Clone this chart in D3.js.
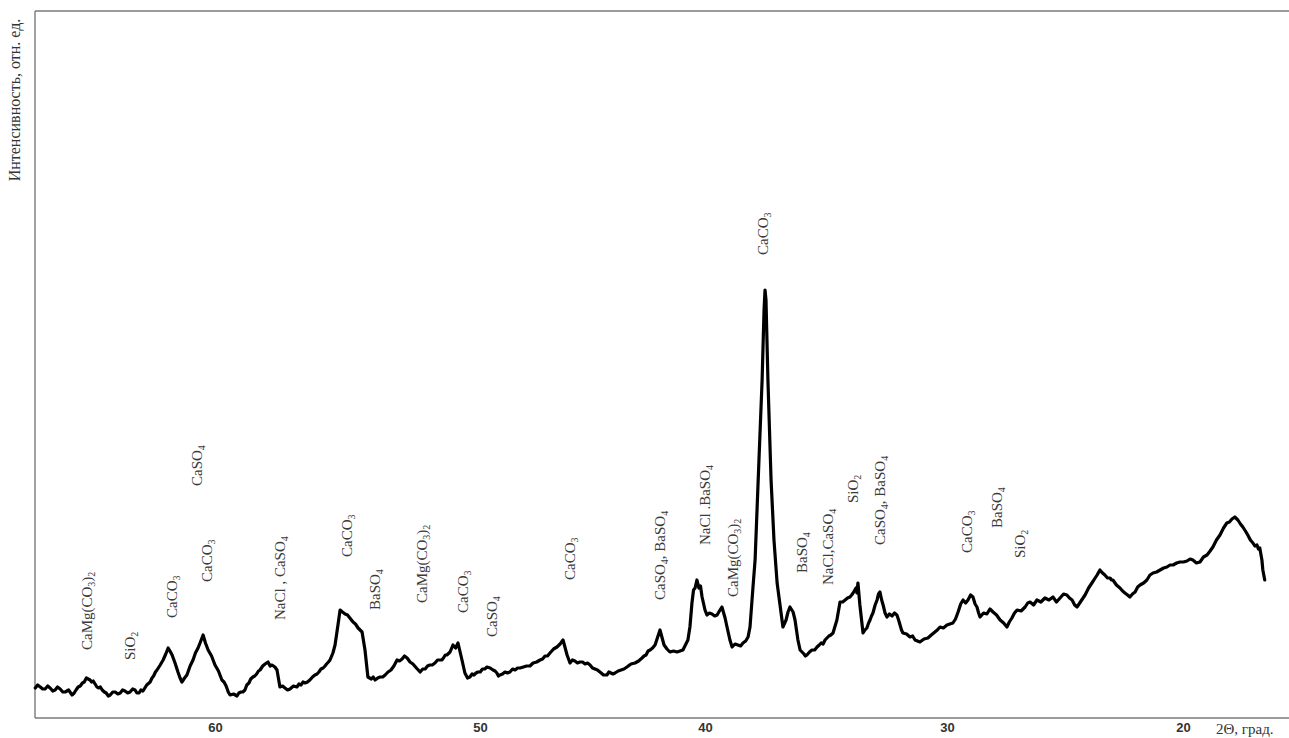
<!DOCTYPE html>
<html lang="ru">
<head>
<meta charset="utf-8">
<title>Рентгенограмма</title>
<script src="https://cdn.jsdelivr.net/npm/d3@7"></script>
<style>
  html, body { margin: 0; padding: 0; background: #fff; }
  svg { display: block; }
</style>
</head>
<body>
<svg id="chart" width="1289" height="738"></svg>
<script>
// Diffractogram: [2Θ in degrees, intensity in arb. units], recorded from high to low angle
const scan = [
  [66.79,60],[66.70,66],[66.60,62],[66.51,58],[66.42,58],[66.32,64],[66.23,60],[66.13,54],[66.04,56],[65.95,62],
  [65.85,58],[65.75,52],[65.66,52],[65.53,56],[65.40,46],[65.32,50],[65.25,56],[65.17,62],[65.09,64],[65.01,70],
  [64.94,72],[64.86,80],[64.79,78],[64.72,76],[64.66,72],[64.60,74],[64.53,68],[64.46,62],[64.40,60],[64.33,62],
  [64.26,56],[64.18,52],[64.11,50],[64.03,44],[63.96,46],[63.86,52],[63.77,52],[63.67,48],[63.58,50],[63.49,56],
  [63.40,54],[63.30,50],[63.21,52],[63.11,58],[63.02,56],[62.95,50],[62.87,50],[62.80,56],[62.72,54],[62.58,66],
  [62.45,72],[62.38,80],[62.32,84],[62.25,92],[62.19,96],[62.07,106],[61.96,116],[61.86,128],[61.77,140],[61.70,134],
  [61.62,126],[61.51,110],[61.40,92],[61.32,80],[61.25,72],[61.15,80],[61.06,86],[60.94,104],[60.83,116],[60.74,130],
  [60.64,140],[60.55,152],[60.45,166],[60.36,150],[60.26,136],[60.13,124],[60.00,106],[59.87,94],[59.74,76],[59.66,72],
  [59.58,64],[59.50,52],[59.43,46],[59.30,48],[59.17,44],[59.10,50],[59.02,52],[58.95,52],[58.87,56],[58.80,66],
  [58.72,70],[58.65,78],[58.57,82],[58.50,84],[58.43,88],[58.36,94],[58.30,96],[58.20,104],[58.11,108],[58.00,112],
  [57.92,104],[57.85,106],[57.74,102],[57.66,96],[57.55,62],[57.45,64],[57.36,60],[57.26,56],[57.17,58],[57.04,64],
  [56.91,62],[56.83,68],[56.75,66],[56.68,72],[56.60,70],[56.51,72],[56.42,76],[56.32,82],[56.23,86],[56.15,88],
  [56.08,92],[56.00,98],[55.92,100],[55.85,104],[55.79,108],[55.72,112],[55.66,116],[55.55,130],[55.47,146],[55.36,186],
  [55.28,216],[55.19,212],[55.09,208],[55.00,206],[54.91,200],[54.79,192],[54.70,188],[54.60,180],[54.45,172],[54.34,136],
  [54.23,82],[54.10,78],[54.03,82],[53.96,76],[53.86,80],[53.77,82],[53.67,82],[53.58,86],[53.47,92],[53.36,96],
  [53.25,104],[53.13,116],[53.04,114],[52.94,118],[52.85,124],[52.75,120],[52.64,112],[52.53,108],[52.40,100],[52.26,92],
  [52.16,98],[52.07,98],[51.98,104],[51.89,106],[51.80,106],[51.70,110],[51.60,116],[51.51,116],[51.44,116],[51.38,120],
  [51.31,126],[51.25,126],[51.13,132],[51.02,146],[50.92,140],[50.83,150],[50.68,116],[50.57,90],[50.47,80],[50.38,82],
  [50.30,88],[50.23,86],[50.15,90],[50.08,92],
  [49.99,92],[49.89,98],[49.79,98],[49.69,102],[49.55,100],[49.42,96],[49.33,94],[49.25,90],[49.18,84],[49.11,86],
  [49.00,88],[48.89,92],[48.78,90],[48.67,92],[48.55,98],[48.44,96],[48.33,100],[48.22,100],[48.07,102],[47.93,104],
  [47.78,104],[47.64,110],[47.48,112],[47.33,116],[47.22,118],[47.11,124],[47.00,124],[46.89,130],[46.73,138],[46.58,142],
  [46.44,148],[46.31,156],[46.13,126],[46.00,110],[45.89,116],[45.78,114],[45.67,110],[45.56,112],[45.44,112],[45.33,108],
  [45.22,110],[45.11,106],[45.00,100],[44.89,98],[44.78,96],[44.67,92],[44.51,86],[44.36,86],[44.27,92],[44.18,90],
  [44.09,88],[44.00,90],[43.86,94],[43.73,96],[43.60,98],[43.47,102],[43.29,108],[43.11,110],[42.95,114],[42.80,120],
  [42.71,124],[42.62,126],[42.53,134],[42.44,136],[42.33,140],[42.22,146],[42.00,176],[41.82,146],[41.69,138],[41.56,132],
  [41.40,134],[41.24,132],[41.11,134],[40.98,136],[40.87,146],[40.76,156],[40.67,182],[40.58,230],[40.51,256],[40.44,260],
  [40.36,276],[40.27,260],[40.20,264],[40.13,242],[40.00,216],
  [39.92,206],[39.82,210],[39.71,208],[39.60,204],[39.50,206],[39.38,216],[39.30,222],[39.17,200],[39.09,182],[38.97,156],
  [38.88,142],[38.76,148],[38.64,146],[38.53,144],[38.43,150],[38.32,154],[38.22,162],[38.14,182],[38.02,260],[37.93,316],
  [37.77,516],[37.64,676],[37.56,816],[37.52,856],[37.48,836],[37.40,676],[37.27,476],[37.15,356],[37.02,270],[36.90,226],
  [36.78,182],[36.65,196],[36.57,212],[36.49,222],[36.36,212],[36.28,196],[36.16,156],[36.07,136],[35.99,132],[35.91,128],
  [35.85,124],[35.79,126],[35.68,132],[35.58,136],[35.47,136],[35.37,142],[35.28,146],[35.20,150],[35.12,148],[35.04,156],
  [34.96,160],[34.88,164],[34.80,166],[34.71,170],[34.55,196],[34.42,232],[34.31,232],[34.21,236],[34.11,240],[34.01,242],
  [33.94,246],[33.88,250],[33.76,260],[33.72,250],[33.68,270],[33.60,226],[33.47,170],[33.39,176],[33.31,180],[33.24,190],
  [33.18,196],[33.12,204],[33.06,210],[32.97,226],[32.89,236],[32.83,248],[32.77,252],[32.70,236],[32.64,226],[32.56,210],
  [32.48,202],[32.38,208],[32.27,204],[32.17,210],[32.07,206],[32.00,196],[31.94,186],[31.88,176],[31.82,170],[31.67,168],
  [31.53,162],[31.42,164],[31.32,156],[31.22,154],[31.12,152],[30.95,158],[30.79,160],[30.65,166],[30.50,172],[30.40,176],
  [30.29,182],[30.15,180],[30.00,186],
  [29.88,188],[29.75,190],[29.64,198],[29.53,212],[29.42,228],[29.32,236],[29.21,230],[29.11,236],[29.00,246],[28.90,242],
  [28.81,228],[28.73,222],[28.66,210],[28.60,202],[28.45,210],[28.31,208],[28.18,218],[28.05,212],[27.90,206],[27.75,196],
  [27.60,190],[27.46,182],[27.36,192],[27.25,200],[27.14,210],[27.03,216],[26.86,214],[26.69,222],[26.58,230],[26.48,232],
  [26.33,226],[26.19,236],[26.02,232],[25.85,240],[25.68,236],[25.51,242],[25.36,232],[25.21,240],[25.06,248],[24.92,246],
  [24.81,240],[24.70,236],[24.59,226],[24.49,222],[24.32,234],[24.15,246],[24.00,260],[23.86,270],[23.75,278],[23.64,286],
  [23.52,296],[23.41,290],[23.31,286],[23.20,280],[23.09,280],[23.03,276],[22.97,276],[22.82,266],[22.67,260],[22.56,254],
  [22.46,250],[22.35,246],[22.25,242],[22.14,248],[22.03,252],[21.92,262],[21.82,266],[21.67,270],[21.53,276],[21.40,286],
  [21.27,290],[21.12,292],[20.97,296],[20.82,300],[20.68,302],[20.55,306],[20.42,306],[20.27,310],[20.13,312],[19.98,312],
  [19.83,314],[19.70,318],[19.58,316],[19.43,310],[19.28,312],[19.13,322],[18.98,326],[18.85,334],[18.73,342],[18.58,356],
  [18.43,366],[18.28,380],[18.14,390],[18.03,392],[17.92,398],[17.80,402],[17.67,396],[17.56,388],[17.46,382],[17.35,374],
  [17.25,366],[17.14,356],[17.03,350],[16.95,344],[16.86,346],[16.80,338],[16.74,340],[16.65,316],[16.61,296],[16.53,276]
];

// Phase labels: text ("_n" marks a subscript), 2Θ position, intensity of the label foot
const labelText = [
  "CaMg(CO_3)_2", "SiO_2", "CaCO_3", "CaCO_3", "CaSO_4", "NaCl , CaSO_4", "CaCO_3", "BaSO_4",
  "CaMg(CO_3)_2", "CaCO_3", "CaSO_4", "CaCO_3", "CaSO_4, BaSO_4", "NaCl .BaSO_4", "CaMg(CO_3)_2",
  "BaSO_4", "NaCl,CaSO_4", "SiO_2", "CaSO_4, BaSO_4", "CaCO_3", "BaSO_4", "SiO_2", "CaCO_3"
];
const labelTheta = [
  64.83, 63.21, 61.62, 60.30, 60.68, 57.55, 55.02, 53.96,
  52.19, 50.64, 49.47, 46.00, 42.00, 40.00, 38.84,
  35.99, 34.92, 33.88, 32.77, 29.15, 27.88, 26.91, 37.60
];
const labelFoot = [
  136, 116, 200, 272, 464, 196, 322, 216,
  230, 210, 162, 276, 236, 346, 242,
  290, 266, 430, 346, 330, 380, 320, 926
];

// Axis text
const tickValues = [60, 50, 40, 30, 20];
const xAxisTitle = "2Θ, град.";
const yAxisTitle = "Интенсивность, отн. ед.";

const svg = d3.select("#chart");
const plotLeft = 35, plotRight = 1289, plotTop = 11, plotBottom = 718;

// 2Θ runs from high to low; the printed scale is piecewise between its labelled degrees
const x = d3.scaleLinear()
  .domain([66.8, 60, 50, 40, 30, 20, 15.5])
  .range([plotLeft, 215, 480, 705, 947, 1183, plotRight]);
const y = d3.scaleLinear().domain([0, 1414]).range([plotBottom, plotTop]);

const axisColor = "#7a7a7a";

// frame: top rule, left rule, bottom axis
svg.append("line").attr("x1", plotLeft).attr("x2", plotRight).attr("y1", plotTop).attr("y2", plotTop)
  .attr("stroke", axisColor).attr("stroke-width", 1.4);
svg.append("line").attr("x1", plotLeft).attr("x2", plotLeft).attr("y1", plotTop).attr("y2", plotBottom)
  .attr("stroke", axisColor).attr("stroke-width", 1.4);

const xAxis = d3.axisBottom(x).tickValues(tickValues).tickSize(0).tickPadding(5)
  .tickFormat(d3.format("d"));
const gx = svg.append("g").attr("transform", `translate(0,${plotBottom})`).call(xAxis);
gx.select(".domain").attr("stroke", axisColor).attr("stroke-width", 1.4)
  .attr("d", `M${plotLeft},0H${plotRight}`);
gx.selectAll(".tick text")
  .attr("fill", "#333")
  .attr("font-family", "'Liberation Sans', Arial, sans-serif")
  .attr("font-weight", "bold")
  .attr("font-size", 13);

svg.append("text")
  .attr("x", 1216).attr("y", 734)
  .attr("font-family", "'Liberation Serif', 'Times New Roman', serif")
  .attr("font-size", 15).attr("fill", "#333")
  .text(xAxisTitle);

svg.append("text")
  .attr("transform", "translate(14,100) rotate(-90)")
  .attr("text-anchor", "middle").attr("dy", "0.35em")
  .attr("font-family", "'Liberation Serif', 'Times New Roman', serif")
  .attr("font-size", 16).attr("fill", "#333")
  .text(yAxisTitle);

// diffraction curve
const line = d3.line().x(d => x(d[0])).y(d => y(d[1]));
svg.append("path")
  .datum(scan)
  .attr("d", line)
  .attr("fill", "none")
  .attr("stroke", "#000")
  .attr("stroke-width", 3.2)
  .attr("stroke-linejoin", "round")
  .attr("stroke-linecap", "round");

// phase labels, rotated to read bottom-to-top
const labels = svg.append("g")
  .attr("font-family", "'Liberation Serif', 'Times New Roman', serif")
  .attr("font-size", 15)
  .attr("fill", "#3a3a3a");

labelText.forEach((txt, i) => {
  const t = labels.append("text")
    .attr("transform", `translate(${x(labelTheta[i])},${y(labelFoot[i])}) rotate(-90)`)
    .attr("dy", "0.35em");
  const parts = txt.split(/(_\d)/).filter(s => s.length);
  let sub = false;
  parts.forEach(p => {
    if (p.startsWith("_")) {
      t.append("tspan").attr("font-size", 10).attr("dy", 3).text(p.slice(1));
      sub = true;
    } else {
      const ts = t.append("tspan").text(p);
      if (sub) { ts.attr("dy", -3); sub = false; }
    }
  });
});
</script>
</body>
</html>
